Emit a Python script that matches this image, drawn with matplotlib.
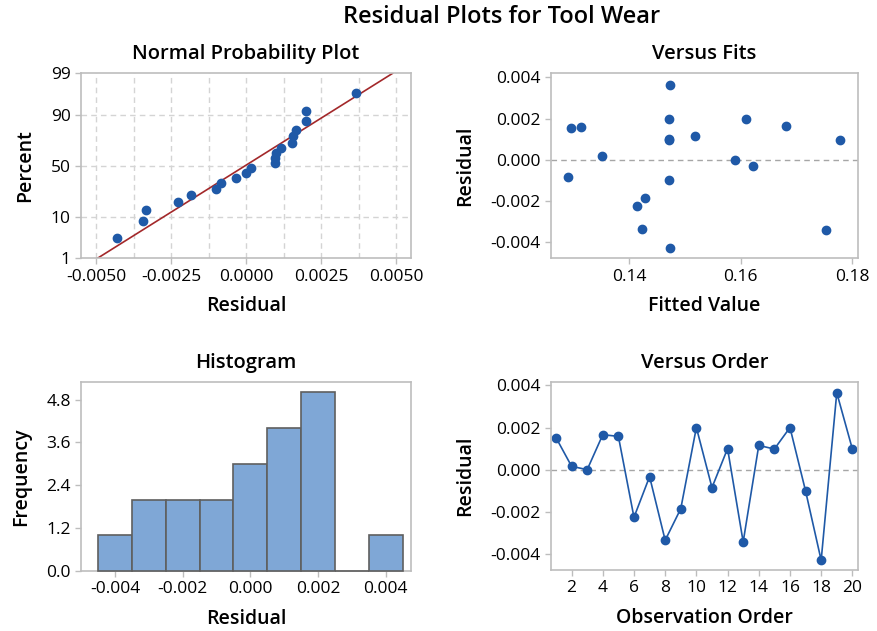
import matplotlib
matplotlib.use("Agg")
import matplotlib.pyplot as plt
import numpy as np
from statistics import NormalDist

# residuals in observation order, and the fitted values for the same observations
order = np.arange(1, 21)
residuals = np.array([0.00152, 0.00016, 0.00000, 0.00166, 0.00158, -0.00226, -0.00033,
                      -0.00335, -0.00185, 0.00200, -0.00085, 0.00100, -0.00343, 0.00115,
                      0.00098, 0.00200, -0.00101, -0.00430, 0.00365, 0.00098])
fitted = np.array([0.1296, 0.1351, 0.1589, 0.1682, 0.1315, 0.1414, 0.1622, 0.1424, 0.1429,
                   0.1471, 0.1291, 0.1471, 0.1753, 0.1519, 0.1471, 0.1609, 0.1471, 0.1473,
                   0.1473, 0.1778])
pct_ticks = [1, 10, 50, 90, 99]
hist_edges = np.linspace(-0.0045, 0.0045, 10)

BLUE = "#1f59a7"
RED = "#a3282a"
FRAME = "#bdbdbd"
GRID = "#d4d4d4"

plt.rcParams["font.family"] = ["Open Sans", "DejaVu Sans"]
plt.rcParams["axes.unicode_minus"] = False

fig = plt.figure(figsize=(8.78, 6.31), dpi=100)
fig.text(502 / 878, 1 - 17 / 631, "Residual Plots for Tool Wear", ha="center", va="center",
         fontsize=17, fontweight="semibold")

ax_npp = fig.add_axes([0.0923, 0.5906, 0.3759, 0.2932])
ax_fit = fig.add_axes([0.6272, 0.5906, 0.3500, 0.2932])
ax_hist = fig.add_axes([0.0926, 0.0951, 0.3755, 0.2995])
ax_ord = fig.add_axes([0.6272, 0.0967, 0.3500, 0.2979])


def style(ax, title, xlabel, ylabel):
    for sp in ax.spines.values():
        sp.set_color(FRAME)
        sp.set_linewidth(1.2)
    ax.tick_params(colors=FRAME, labelcolor="black", labelsize=12.5, length=4, width=1)
    ax.set_title(title, fontsize=14.5, fontweight="semibold", pad=10)
    ax.set_xlabel(xlabel, fontsize=14, fontweight="semibold", labelpad=8)
    ax.set_ylabel(ylabel, fontsize=14, fontweight="semibold", labelpad=11)


# Normal probability plot
nd = NormalDist()
srt = np.sort(residuals)
n = len(srt)
z_pts = np.array([nd.inv_cdf((i - 0.3) / (n + 0.4)) for i in range(1, n + 1)])
mu, sd = residuals.mean(), residuals.std(ddof=1)
z_lo, z_hi = nd.inv_cdf(0.01), nd.inv_cdf(0.99)
for xg in np.arange(-0.005, 0.0051, 0.00125):
    ax_npp.axvline(xg, color=GRID, ls=(0, (4, 3)), lw=1, zorder=0)
for p in [10, 50, 90]:
    ax_npp.axhline(nd.inv_cdf(p / 100), color=GRID, ls=(0, (4, 3)), lw=1, zorder=0)
ax_npp.plot([mu + z_lo * sd, mu + z_hi * sd], [z_lo, z_hi], color=RED, lw=1.2, zorder=2)
ax_npp.plot(srt, z_pts, "o", color=BLUE, ms=6, zorder=3)
ax_npp.set_xlim(-0.0055, 0.0055)
ax_npp.set_ylim(z_lo, z_hi)
ax_npp.set_xticks([-0.005, -0.0025, 0, 0.0025, 0.005])
ax_npp.set_xticklabels(["-0.0050", "-0.0025", "0.0000", "0.0025", "0.0050"])
ax_npp.set_yticks([nd.inv_cdf(p / 100) for p in pct_ticks])
ax_npp.set_yticklabels([str(p) for p in pct_ticks])
style(ax_npp, "Normal Probability Plot", "Residual", "Percent")

# Versus fits
ax_fit.axhline(0, color="#a6a6a6", ls=(0, (4, 3)), lw=1, zorder=0)
ax_fit.plot(fitted, residuals, "o", color=BLUE, ms=6)
ax_fit.set_xlim(0.126, 0.181)
ax_fit.set_ylim(-0.0048, 0.0042)
ax_fit.set_xticks([0.14, 0.16, 0.18])
ax_fit.set_xticklabels(["0.14", "0.16", "0.18"])
ax_fit.set_yticks([-0.004, -0.002, 0, 0.002, 0.004])
ax_fit.set_yticklabels(["-0.004", "-0.002", "0.000", "0.002", "0.004"])
style(ax_fit, "Versus Fits", "Fitted Value", "Residual")

# Histogram
ax_hist.hist(residuals, bins=hist_edges, color="#7fa7d6", edgecolor="#5f5f5f",
             linewidth=1.2, zorder=3, clip_on=False)
ax_hist.set_xlim(-0.0050, 0.00475)
ax_hist.set_ylim(0, 5.29)
ax_hist.set_xticks([-0.004, -0.002, 0, 0.002, 0.004])
ax_hist.set_xticklabels(["-0.004", "-0.002", "0.000", "0.002", "0.004"])
ax_hist.set_yticks([0, 1.2, 2.4, 3.6, 4.8])
ax_hist.set_yticklabels(["0.0", "1.2", "2.4", "3.6", "4.8"])
style(ax_hist, "Histogram", "Residual", "Frequency")

# Versus order
ax_ord.axhline(0, color="#a6a6a6", ls=(0, (4, 3)), lw=1, zorder=0)
ax_ord.plot(order, residuals, "-o", color=BLUE, lw=1.2, ms=6)
ax_ord.set_xlim(0.66, 20.36)
ax_ord.set_ylim(-0.00476, 0.00416)
ax_ord.set_xticks(np.arange(2, 21, 2))
ax_ord.set_yticks([-0.004, -0.002, 0, 0.002, 0.004])
ax_ord.set_yticklabels(["-0.004", "-0.002", "0.000", "0.002", "0.004"])
style(ax_ord, "Versus Order", "Observation Order", "Residual")

fig.savefig("out.png", dpi=100)
